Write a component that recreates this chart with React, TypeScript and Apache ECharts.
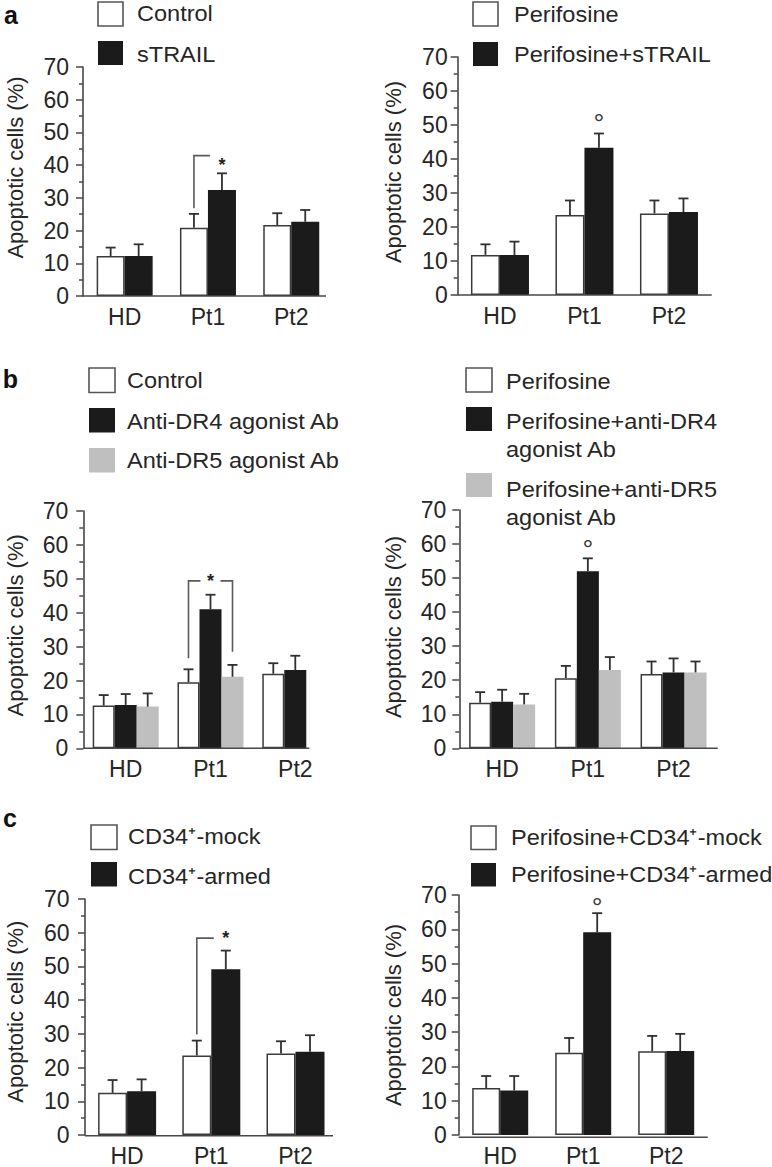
import React, { useEffect, useRef } from "react";
import * as echarts from "echarts";

// ---------- data ----------
const categories = ["HD", "Pt1", "Pt2"];
const yMin = 0;
const yMax = 70;
const yInterval = 10;
const yAxisTitle = "Apoptotic cells (%)";
const panelLetters = ["a", "b", "c"];

// panel a
const aLeftLegend = ["Control", "sTRAIL"];
const aControl = [12.2, 20.9, 21.7];
const aControlSD = [2.6, 4.2, 3.6];
const aSTRAIL = [12.2, 32.4, 22.7];
const aSTRAILSD = [3.6, 5.1, 3.6];

const aRightLegend = ["Perifosine", "Perifosine+sTRAIL"];
const aPerifosine = [11.8, 23.5, 24.0];
const aPerifosineSD = [3.1, 4.3, 3.8];
const aPerifosineSTRAIL = [11.8, 43.3, 24.4];
const aPerifosineSTRAILSD = [3.9, 4.2, 4.0];

// panel b
const bLeftLegend = ["Control", "Anti-DR4 agonist Ab", "Anti-DR5 agonist Ab"];
const bControl = [12.6, 19.5, 22.0];
const bControlSD = [3.1, 3.8, 3.1];
const bDR4 = [12.8, 41.0, 23.1];
const bDR4SD = [3.2, 4.3, 4.2];
const bDR5 = [12.3, 21.1, null];
const bDR5SD = [3.9, 3.5, null];

const bRightLegend = ["Perifosine", "Perifosine+anti-DR4\nagonist Ab", "Perifosine+anti-DR5\nagonist Ab"];
const bPerifosine = [13.4, 20.6, 21.8];
const bPerifosineSD = [3.1, 3.6, 3.7];
const bPerifosineDR4 = [13.7, 52.0, 22.3];
const bPerifosineDR4SD = [3.5, 3.8, 4.1];
const bPerifosineDR5 = [12.9, 23.0, 22.3];
const bPerifosineDR5SD = [3.1, 3.8, 3.2];

// panel c
const cLeftLegend = ["CD34\u207A-mock", "CD34\u207A-armed"];
const cMock = [12.5, 23.6, 24.2];
const cMockSD = [3.8, 4.4, 3.6];
const cArmed = [13.0, 49.2, 24.7];
const cArmedSD = [3.5, 5.5, 4.9];

const cRightLegend = ["Perifosine+CD34\u207A-mock", "Perifosine+CD34\u207A-armed"];
const cPerifosineMock = [13.7, 24.0, 24.4];
const cPerifosineMockSD = [3.5, 4.3, 4.5];
const cPerifosineArmed = [13.0, 59.1, 24.5];
const cPerifosineArmedSD = [4.2, 5.6, 5.0];

// significance annotations: [category index, bracket level, left arm bottom, right arm bottom (or null), star level]
const aSigBracket = [1, 42.9, 26.8, null, 41.4];
const bSigBracket = [1, 49.4, 26.6, 28.5, 50.4];
const cSigBracket = [1, 58.4, 29.8, null, 59.6];
// open-circle marks: [category index, level]
const aRightMark = [1, 52.0];
const bRightMark = [1, 60.0];
const cRightMark = [1, 67.9];

// ---------- styles ----------
const FONT = '"Liberation Sans", Arial, Helvetica, sans-serif';
const TEXT = "#262626";
const AXIS = "#474747";
const FILL: Record<string, string> = { white: "#ffffff", black: "#1b1b1b", gray: "#bfbfbf" };
const BORDER: Record<string, string> = { white: "#3a3a3a", black: "#1b1b1b", gray: "#bfbfbf" };
const FS = 22;
const TICK_FS = 23;
const STRETCH = 1.07;

type S = { name: string; data: (number | null)[]; sd: (number | null)[]; kind: string };

const panels: any[] = [
  {
    left: 83, top: 67, zero: 296, catW: 83.3, barWidth: 28, labelMargin: 15, axisEnd: 326,
    titleX: 15, titleY: 167.5, boxX: 98, boxW: 25, boxH: 24, textX: 137,
    rows: [{ boxTop: 2, textY: 13.5 }, { boxTop: 41, textY: 54.5 }],
    legend: aLeftLegend,
    series: [
      { data: aControl, sd: aControlSD, kind: "white" },
      { data: aSTRAIL, sd: aSTRAILSD, kind: "black" },
    ],
    bracket: aSigBracket, bracketGap: 12, mark: null,
  },
  {
    left: 457.7, top: 57, zero: 295, catW: 84.5, barWidth: 29, labelMargin: 11, axisEnd: 711.7,
    titleX: 393.5, titleY: 172, boxX: 473, boxW: 25, boxH: 24, textX: 514,
    rows: [{ boxTop: 2, textY: 14.2 }, { boxTop: 42, textY: 54.3 }],
    legend: aRightLegend,
    series: [
      { data: aPerifosine, sd: aPerifosineSD, kind: "white" },
      { data: aPerifosineSTRAIL, sd: aPerifosineSTRAILSD, kind: "black" },
    ],
    bracket: null, mark: aRightMark,
  },
  {
    left: 83.3, top: 511, zero: 748.3, catW: 84.8, barWidth: 22, labelMargin: 16, axisEnd: 309.3,
    titleX: 15, titleY: 625.3, boxX: 89, boxW: 26, boxH: 24.5, textX: 127,
    rows: [{ boxTop: 368, textY: 380.3 }, { boxTop: 408, textY: 421 }, { boxTop: 448, textY: 460.5 }],
    legend: bLeftLegend,
    series: [
      { data: bControl, sd: bControlSD, kind: "white" },
      { data: bDR4, sd: bDR4SD, kind: "black" },
      { data: bDR5, sd: bDR5SD, kind: "gray" },
    ],
    bracket: bSigBracket, bracketGap: 10, mark: null,
  },
  {
    left: 459.3, top: 510, zero: 748.3, catW: 85.7, barWidth: 22, labelMargin: 14, axisEnd: 717.7,
    titleX: 393.5, titleY: 627, boxX: 466, boxW: 26, boxH: 24, textX: 506,
    rows: [{ boxTop: 368, textY: 381.3 }, { boxTop: 407, textY: 421.7 }, { boxTop: 473, textY: 488.8 }],
    legend: bRightLegend,
    series: [
      { data: bPerifosine, sd: bPerifosineSD, kind: "white" },
      { data: bPerifosineDR4, sd: bPerifosineDR4SD, kind: "black" },
      { data: bPerifosineDR5, sd: bPerifosineDR5SD, kind: "gray" },
    ],
    bracket: null, mark: bRightMark,
  },
  {
    left: 85, top: 899, zero: 1135.7, catW: 84.2, barWidth: 29, labelMargin: 16.5, axisEnd: 333,
    titleX: 15, titleY: 1011.7, boxX: 91, boxW: 26, boxH: 24.5, textX: 128,
    rows: [{ boxTop: 825, textY: 836.2 }, { boxTop: 862, textY: 875.8 }],
    legend: cLeftLegend,
    series: [
      { data: cMock, sd: cMockSD, kind: "white" },
      { data: cArmed, sd: cArmedSD, kind: "black" },
    ],
    bracket: cSigBracket, bracketGap: 12, mark: null,
  },
  {
    left: 458.7, top: 895, zero: 1137.3, catW: 83, barWidth: 28, labelMargin: 13, axisEnd: 707.7,
    titleX: 393.5, titleY: 1015, boxX: 471, boxW: 25, boxH: 23.5, textX: 511,
    rows: [{ boxTop: 826, textY: 837.2 }, { boxTop: 863, textY: 873.8 }],
    legend: cRightLegend,
    series: [
      { data: cPerifosineMock, sd: cPerifosineMockSD, kind: "white" },
      { data: cPerifosineArmed, sd: cPerifosineArmedSD, kind: "black" },
    ],
    bracket: null, mark: cRightMark,
  },
];

const letterPos = [
  { x: 18, y: 15 },
  { x: 18, y: 379 },
  { x: 17, y: 818 },
];

export default function App() {
  const ref = useRef<HTMLDivElement>(null);

  useEffect(() => {
    document.body.style.margin = "0";
    const chart = echarts.init(ref.current as HTMLDivElement, null, { renderer: "svg" });

    const grids: any[] = [];
    const xAxes: any[] = [];
    const yAxes: any[] = [];
    const series: any[] = [];
    const graphics: any[] = [];

    panels.forEach((p, g) => {
      const n = p.series.length;
      const offset = (k: number) => (k - (n - 1) / 2) * p.barWidth;

      grids.push({ left: p.left, top: p.top, width: p.catW * 3, height: p.zero - p.top, containLabel: false });
      xAxes.push({
        type: "category",
        gridIndex: g,
        data: categories,
        axisLine: { show: false },
        axisTick: { show: false },
        axisLabel: { margin: 9, fontSize: TICK_FS, color: TEXT, fontFamily: FONT },
      });
      yAxes.push({
        type: "value",
        gridIndex: g,
        min: yMin,
        max: yMax,
        interval: yInterval,
        axisLine: { show: true, lineStyle: { color: AXIS, width: 1.6 } },
        axisTick: { show: true, length: 7, lineStyle: { color: AXIS, width: 1.5 } },
        minorTick: { show: true, splitNumber: 2, length: 4, lineStyle: { color: AXIS, width: 1.5 } },
        splitLine: { show: false },
        axisLabel: { margin: p.labelMargin - 1, fontSize: TICK_FS, color: TEXT, fontFamily: FONT },
      });

      p.series.forEach((s: S, k: number) => {
        const name = p.legend[k].replace("\n", " ");
        series.push({
          type: "bar",
          name,
          xAxisIndex: g,
          yAxisIndex: g,
          data: s.data,
          barWidth: p.barWidth,
          barGap: "0%",
          itemStyle: { color: FILL[s.kind], borderColor: BORDER[s.kind], borderWidth: s.kind === "gray" ? 0 : 1.5 },
          z: 2,
        });
        const errData = s.data
          .map((v, i) => (v == null ? null : [i, v, s.sd[i]]))
          .filter((d) => d != null);
        series.push({
          type: "custom",
          name: name + " SD",
          xAxisIndex: g,
          yAxisIndex: g,
          clip: false,
          z: 3,
          data: errData,
          renderItem: (_params: any, api: any) => {
            const base = api.coord([api.value(0), api.value(1)]);
            const top = api.coord([api.value(0), api.value(1) + api.value(2)]);
            const x = base[0] + offset(k);
            const st = { stroke: "#303030", lineWidth: 1.8 };
            return {
              type: "group",
              children: [
                { type: "line", shape: { x1: x, y1: base[1], x2: x, y2: top[1] }, style: st },
                { type: "line", shape: { x1: x - 5, y1: top[1], x2: x + 5, y2: top[1] }, style: st },
              ],
            };
          },
        });
      });

      if (p.bracket) {
        const b = p.bracket;
        const gap = p.bracketGap;
        series.push({
          type: "custom",
          name: "significance",
          xAxisIndex: g,
          yAxisIndex: g,
          clip: false,
          z: 4,
          data: [[b[0], b[1], b[2], b[3] == null ? -1 : b[3], b[4]]],
          renderItem: (_params: any, api: any) => {
            const cat = api.value(0);
            const lv = api.coord([cat, api.value(1)]);
            const cx = lv[0];
            const y = lv[1];
            const xFrom = cx + offset(0);
            const xStar = cx + offset(1);
            const yFromBottom = api.coord([cat, api.value(2)])[1];
            const st = { stroke: "#5a5a5a", lineWidth: 1.6, fill: "none" };
            const children: any[] = [
              { type: "polyline", shape: { points: [[xFrom, yFromBottom], [xFrom, y], [xStar - gap, y]] }, style: st },
            ];
            if (api.value(3) >= 0) {
              const xTo = cx + offset(2);
              const yToBottom = api.coord([cat, api.value(3)])[1];
              children.push({
                type: "polyline",
                shape: { points: [[xStar + gap, y], [xTo, y], [xTo, yToBottom]] },
                style: st,
              });
            }
            const sy = api.coord([cat, api.value(4)])[1];
            const fs = 18;
            children.push({
              type: "text",
              x: xStar,
              y: sy + 0.22 * fs,
              style: { text: "*", fontSize: fs, fontWeight: "bold", fontFamily: FONT, fill: "#222", align: "center", verticalAlign: "middle" },
            });
            return { type: "group", children };
          },
        });
      }

      if (p.mark) {
        const m = p.mark;
        series.push({
          type: "custom",
          name: "mark",
          xAxisIndex: g,
          yAxisIndex: g,
          clip: false,
          z: 4,
          data: [[m[0], m[1]]],
          renderItem: (_params: any, api: any) => {
            const c = api.coord([api.value(0), api.value(1)]);
            const fs = 27;
            return {
              type: "text",
              x: c[0] + offset(1),
              y: c[1] + 0.22 * fs,
              style: { text: "\u00B0", fontSize: fs, fontFamily: FONT, fill: "#3a3a3a", align: "center", verticalAlign: "middle" },
            };
          },
        });
      }

      // x baseline
      graphics.push({
        type: "line",
        shape: { x1: p.left, y1: p.zero, x2: p.axisEnd, y2: p.zero },
        style: { stroke: AXIS, lineWidth: 1.6 },
        z: 10,
      });
      // y title
      graphics.push({
        type: "text",
        x: p.titleX,
        y: p.titleY,
        rotation: Math.PI / 2,
        style: { text: yAxisTitle, x: 0, y: 0, fontSize: FS, fontFamily: FONT, fill: TEXT, align: "center", verticalAlign: "middle" },
      });
      // legend
      p.rows.forEach((r: any, k: number) => {
        const kind = p.series[k].kind;
        graphics.push({
          type: "rect",
          shape: { x: p.boxX, y: r.boxTop, width: p.boxW, height: p.boxH },
          style: { fill: FILL[kind], stroke: kind === "white" ? "#555" : FILL[kind], lineWidth: kind === "white" ? 1.6 : 0 },
        });
        graphics.push({
          type: "text",
          x: p.textX,
          y: r.textY - 14,
          scaleX: STRETCH,
          style: {
            text: p.legend[k],
            x: 0,
            y: 0,
            fontSize: FS,
            lineHeight: 28,
            fontFamily: FONT,
            fill: TEXT,
            align: "left",
            verticalAlign: "top",
          },
        });
      });
    });

    panelLetters.forEach((L, i) => {
      graphics.push({
        type: "text",
        x: letterPos[i].x,
        y: letterPos[i].y,
        style: { text: L, x: 0, y: 0, fontSize: 25, fontWeight: "bold", fontFamily: FONT, fill: "#111", align: "right", verticalAlign: "middle" },
      });
    });

    chart.setOption({
      animation: false,
      backgroundColor: "#ffffff",
      grid: grids,
      xAxis: xAxes,
      yAxis: yAxes,
      series,
      graphic: graphics,
    });

    return () => chart.dispose();
  }, []);

  return <div ref={ref} style={{ width: 772, height: 1167 }} />;
}
